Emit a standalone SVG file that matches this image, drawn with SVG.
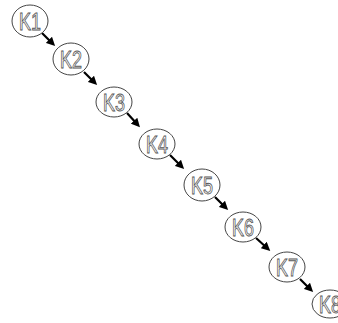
<svg xmlns="http://www.w3.org/2000/svg" width="338" height="323" viewBox="0 0 338 323">
<style>
.n ellipse{fill:#fff;stroke:#444;stroke-width:1}
.n text{font-family:"Liberation Sans",Arial,sans-serif;font-size:24px;fill:#fff;stroke:#555;stroke-width:0.9;text-anchor:middle}
.e line{stroke:#000;stroke-width:2.2;marker-end:url(#ah)}
</style>
<defs>
<marker id="ah" markerWidth="4" markerHeight="4" refX="2" refY="2" orient="auto" markerUnits="strokeWidth">
<path d="M0,0 L4,2 L0,4 Z" fill="#000"/>
</marker>
</defs>
<rect width="338" height="323" fill="#fff"/>
<g id="connectors" class="e">
<line x1="42" y1="33" x2="52" y2="43"/>
<line x1="84" y1="72" x2="94" y2="82"/>
<line x1="127" y1="113" x2="137" y2="124"/>
<line x1="170" y1="155" x2="181" y2="166"/>
<line x1="215" y1="197" x2="225" y2="207"/>
<line x1="256" y1="238" x2="267" y2="248"/>
<line x1="300" y1="279" x2="310" y2="289"/>
</g>
<g id="K1" class="n"><ellipse cx="30" cy="21" rx="18" ry="16"/><text x="30" y="30" textLength="22" lengthAdjust="spacingAndGlyphs">K1</text></g>
<g id="K2" class="n"><ellipse cx="71" cy="59" rx="18" ry="16"/><text x="71" y="68" textLength="22" lengthAdjust="spacingAndGlyphs">K2</text></g>
<g id="K3" class="n"><ellipse cx="114" cy="102" rx="18" ry="15"/><text x="114" y="111" textLength="22" lengthAdjust="spacingAndGlyphs">K3</text></g>
<g id="K4" class="n"><ellipse cx="157" cy="144" rx="18" ry="15"/><text x="157" y="153" textLength="22" lengthAdjust="spacingAndGlyphs">K4</text></g>
<g id="K5" class="n"><ellipse cx="202" cy="185" rx="18" ry="16"/><text x="202" y="194" textLength="22" lengthAdjust="spacingAndGlyphs">K5</text></g>
<g id="K6" class="n"><ellipse cx="243" cy="227" rx="18" ry="15"/><text x="243" y="236" textLength="22" lengthAdjust="spacingAndGlyphs">K6</text></g>
<g id="K7" class="n"><ellipse cx="287" cy="267" rx="18" ry="15"/><text x="287" y="276" textLength="22" lengthAdjust="spacingAndGlyphs">K7</text></g>
<g id="K8" class="n"><ellipse cx="330" cy="304" rx="18" ry="14"/><text x="330" y="313" textLength="22" lengthAdjust="spacingAndGlyphs">K8</text></g>
</svg>
